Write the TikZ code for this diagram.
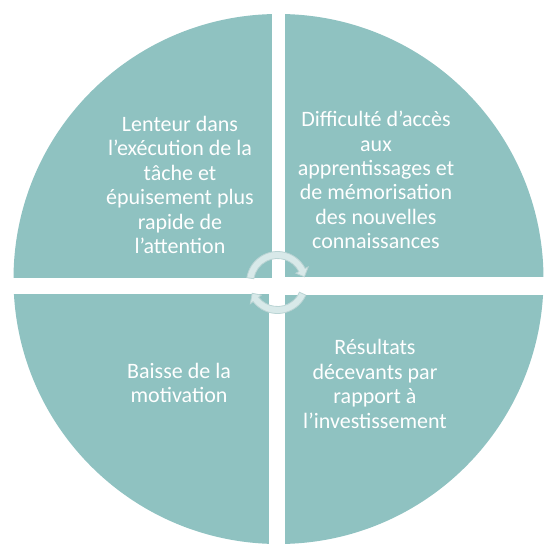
\documentclass[tikz,border=0pt]{standalone}
\usepackage{fontspec}
\setmainfont{Carlito}
\usetikzlibrary{positioning}
\definecolor{myteal}{RGB}{143,194,193}
\definecolor{myring}{RGB}{216,233,233}
\definecolor{myringline}{RGB}{186,212,212}
\tikzset{
  quarter/.style={fill=myteal, draw=none},
  quadtext/.style={align=center, text=white, inner sep=0,
    font=\fontsize{22}{24.4}\selectfont},
  cyclearrow/.style={fill=myring, draw=myringline, line width=0.8}
}

\begin{document}
\begin{tikzpicture}[x=1pt,y=-1pt]
\useasboundingbox (0,0) rectangle (544,545);

% the four quarters
\begin{scope}
\clip (278.5,279) circle (265);
\fill[quarter] (0,0) rectangle (272,278);
\fill[quarter] (285,0) rectangle (544,277);
\fill[quarter] (0,294) rectangle (269,545);
\fill[quarter] (285,295) rectangle (544,545);
\end{scope}

\node[quadtext] (lenteur) at (180,185) {Lenteur dans\\l’exécution de la\\tâche et\\épuisement plus\\rapide de\\l’attention};
\node[quadtext] (difficulte) at (376,180) {Difficulté d’accès\\aux\\apprentissages et\\de mémorisation\\des nouvelles\\connaissances};
\node[quadtext] (baisse) at (179,383) {Baisse de la\\motivation};
\node[quadtext] (resultats) at (375,384) {Résultats\\décevants par\\rapport à\\l’investissement};

% cycle arrows in the middle
\coordinate (ctr) at (277.5,282.5);
\begin{scope}[shift={(ctr)}]
\draw[cyclearrow] (189:31) arc[start angle=189, end angle=333, radius=31]
  -- (333:34.5) -- (348:27.5) -- (333:20.5) -- (333:24)
  arc[start angle=333, end angle=189, radius=24] -- cycle;
\draw[cyclearrow] (24:31) arc[start angle=24, end angle=142, radius=31]
  -- (142:34.5) -- (157:27.5) -- (142:20.5) -- (142:24)
  arc[start angle=142, end angle=24, radius=24] -- cycle;
\end{scope}

\end{tikzpicture}
\end{document}
